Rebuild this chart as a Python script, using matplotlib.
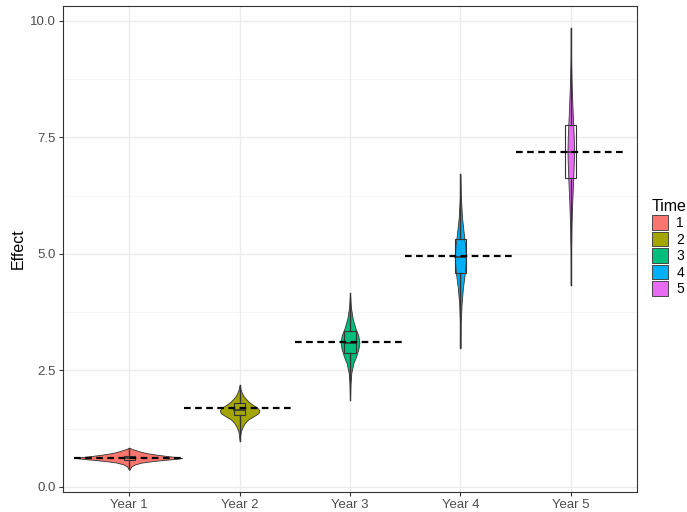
import numpy as np
import matplotlib
matplotlib.use("Agg")
import matplotlib.pyplot as plt
from matplotlib.patches import Patch, Rectangle

plt.rcParams["font.family"] = ["Liberation Sans", "DejaVu Sans"]

# --- Data ---
years = ["Year 1", "Year 2", "Year 3", "Year 4", "Year 5"]
time_labels = ["1", "2", "3", "4", "5"]
colors = ["#F8766D", "#A3A500", "#00BF7D", "#00B0F6", "#E76BF3"]

# horizontal dashed reference levels
ref_levels = [0.63, 1.70, 3.11, 4.96, 7.19]

# box stats: q1, median, q3, whisker low, whisker high
q1 = [0.58, 1.55, 2.88, 4.59, 6.63]
med = [0.62, 1.65, 3.09, 4.94, 7.19]
q3 = [0.66, 1.80, 3.35, 5.32, 7.77]
wlo = [0.40, 0.99, 1.87, 2.98, 4.33]
whi = [0.84, 2.19, 4.16, 6.72, 9.85]

# violin outlines: y levels and half widths (x units)
v1_y = [0.36, 0.40, 0.44, 0.48, 0.52, 0.55, 0.58, 0.60, 0.62, 0.64, 0.66, 0.69, 0.72, 0.75, 0.78, 0.81, 0.84]
v1_w = [0.0, 0.01, 0.02, 0.05, 0.11, 0.20, 0.32, 0.42, 0.48, 0.43, 0.35, 0.25, 0.17, 0.11, 0.07, 0.03, 0.0]
v2_y = [0.99, 1.10, 1.20, 1.30, 1.38, 1.45, 1.52, 1.58, 1.64, 1.70, 1.76, 1.82, 1.88, 1.95, 2.02, 2.10, 2.19]
v2_w = [0.0, 0.005, 0.012, 0.03, 0.05, 0.08, 0.13, 0.17, 0.18, 0.16, 0.12, 0.085, 0.06, 0.035, 0.02, 0.008, 0.0]
v3_y = [1.87, 2.20, 2.45, 2.65, 2.80, 2.95, 3.09, 3.25, 3.40, 3.60, 3.85, 4.16]
v3_w = [0.0, 0.004, 0.012, 0.03, 0.055, 0.075, 0.085, 0.075, 0.05, 0.025, 0.008, 0.0]
v4_y = [2.98, 3.50, 3.90, 4.25, 4.55, 4.80, 4.95, 5.15, 5.45, 5.80, 6.25, 6.72]
v4_w = [0.0, 0.003, 0.01, 0.022, 0.038, 0.048, 0.05, 0.045, 0.03, 0.014, 0.004, 0.0]
v5_y = [4.33, 5.00, 5.60, 6.10, 6.60, 7.00, 7.20, 7.50, 8.00, 8.60, 9.20, 9.85]
v5_w = [0.0, 0.002, 0.006, 0.013, 0.022, 0.028, 0.03, 0.027, 0.018, 0.008, 0.002, 0.0]

violin_y = [v1_y, v2_y, v3_y, v4_y, v5_y]
violin_w = [v1_w, v2_w, v3_w, v4_w, v5_w]

# --- Plotting ---
fig = plt.figure(figsize=(6.87, 5.12), dpi=100)
ax = fig.add_axes([63 / 687, 20 / 512, 574 / 687, 486 / 512])

grid_col = "#ebebeb"
for yv in [1.25, 3.75, 6.25, 8.75]:
    ax.axhline(yv, color="#f4f4f4", lw=0.6, zorder=0)
for yv in [0, 2.5, 5, 7.5, 10]:
    ax.axhline(yv, color=grid_col, lw=1.0, zorder=0)
for i in range(len(years)):
    ax.axvline(i + 1, color=grid_col, lw=1.0, zorder=0)

edge = "#333333"
for i in range(len(years)):
    x = i + 1
    y = np.array(violin_y[i])
    w = np.array(violin_w[i])
    ax.fill_betweenx(y, x - w, x + w, facecolor=colors[i], edgecolor=edge, lw=0.6, zorder=2)
    # whiskers
    ax.plot([x, x], [wlo[i], q1[i]], color=edge, lw=1.0, zorder=3)
    ax.plot([x, x], [q3[i], whi[i]], color=edge, lw=1.0, zorder=3)
    # box
    ax.add_patch(Rectangle((x - 0.05, q1[i]), 0.1, q3[i] - q1[i], facecolor="none",
                           edgecolor=edge, lw=0.8, zorder=3))
    ax.plot([x - 0.05, x + 0.05], [med[i], med[i]], color=edge, lw=1.2, zorder=3)
    # dashed reference
    ax.plot([x - 0.5, x + 0.5], [ref_levels[i], ref_levels[i]], color="black",
            lw=1.6, linestyle=(0, (3, 2)), zorder=4)

ax.set_xlim(0.4, 5.6)
ax.set_ylim(-0.11, 10.32)
ax.set_xticks(range(1, len(years) + 1))
ax.set_xticklabels(years)
ax.set_yticks([0, 2.5, 5, 7.5, 10])
ax.set_yticklabels(["0.0", "2.5", "5.0", "7.5", "10.0"])
ax.tick_params(axis="both", labelsize=9.5, labelcolor="#4d4d4d", color="#333333",
               length=3, width=0.8, pad=2)
ax.set_ylabel("Effect", fontsize=11.5, color="black", labelpad=3)
for sp in ax.spines.values():
    sp.set_color("#333333")
    sp.set_linewidth(0.8)

handles = [Patch(facecolor=c, edgecolor=edge, lw=0.6) for c in colors]
leg = fig.legend(handles, time_labels, title="Time", loc="upper left",
                 bbox_to_anchor=(652 / 687, 1 - 199 / 512), frameon=False,
                 fontsize=10, title_fontsize=11.5, handlelength=1.15, handleheight=1.25,
                 handletextpad=0.6, labelspacing=0.1, borderaxespad=0, borderpad=0)
leg._legend_box.align = "left"

fig.savefig("out.png", dpi=100)
plt.close(fig)
